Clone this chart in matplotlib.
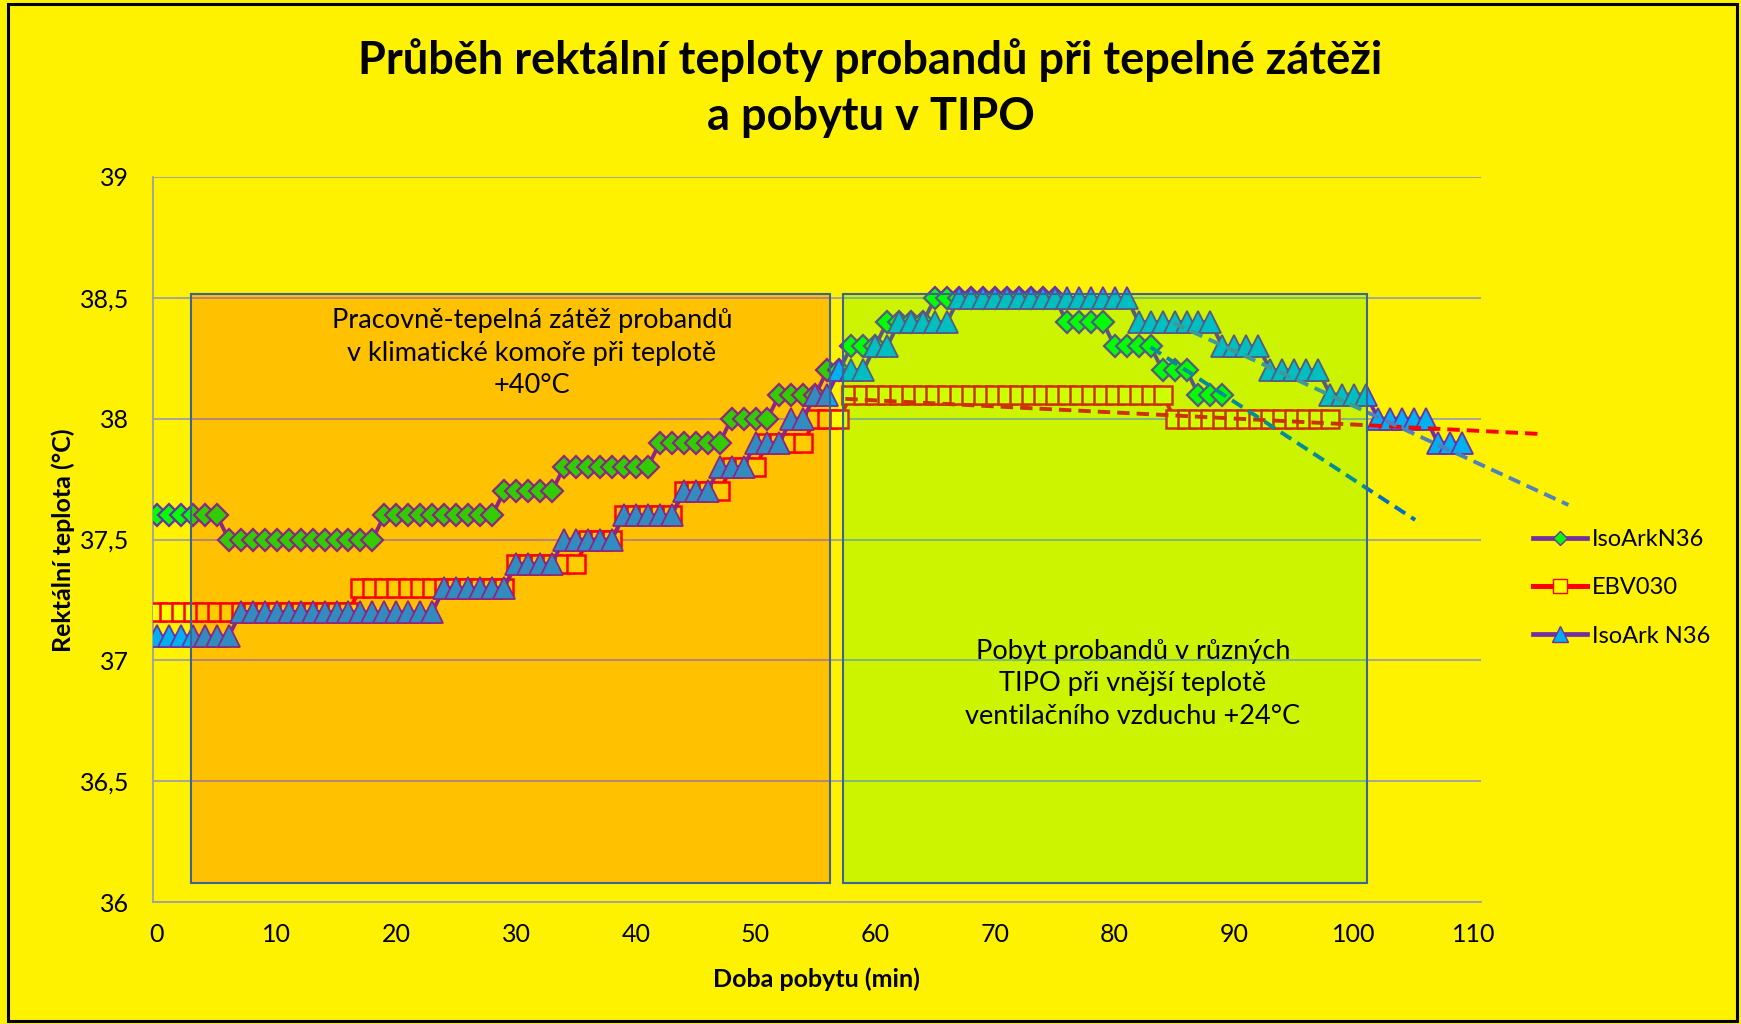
import numpy as np
import matplotlib
matplotlib.use('Agg')
import matplotlib.pyplot as plt
from matplotlib.patches import Rectangle
from matplotlib.lines import Line2D

plt.rcParams['font.family'] = ['Lato', 'DejaVu Sans']

# rectal temperature (°C), one reading per minute
iso_ark_n36_a = [
    37.6, 37.6, 37.6, 37.6, 37.6, 37.6,
    37.5, 37.5, 37.5, 37.5, 37.5, 37.5, 37.5, 37.5, 37.5, 37.5, 37.5, 37.5, 37.5,
    37.6, 37.6, 37.6, 37.6, 37.6, 37.6, 37.6, 37.6, 37.6, 37.6,
    37.7, 37.7, 37.7, 37.7, 37.7,
    37.8, 37.8, 37.8, 37.8, 37.8, 37.8, 37.8, 37.8,
    37.9, 37.9, 37.9, 37.9, 37.9, 37.9,
    38.0, 38.0, 38.0, 38.0,
    38.1, 38.1, 38.1, 38.1,
    38.2, 38.2,
    38.3, 38.3, 38.3,
    38.4, 38.4, 38.4, 38.4,
    38.5, 38.5, 38.5, 38.5, 38.5, 38.5, 38.5, 38.5, 38.5, 38.5, 38.5,
    38.4, 38.4, 38.4, 38.4,
    38.3, 38.3, 38.3, 38.3,
    38.2, 38.2, 38.2,
    38.1, 38.1, 38.1,
]
ebv030 = [
    37.2, 37.2, 37.2, 37.2, 37.2, 37.2, 37.2, 37.2, 37.2, 37.2, 37.2, 37.2, 37.2, 37.2, 37.2, 37.2, 37.2,
    37.3, 37.3, 37.3, 37.3, 37.3, 37.3, 37.3, 37.3, 37.3, 37.3, 37.3, 37.3, 37.3,
    37.4, 37.4, 37.4, 37.4, 37.4, 37.4,
    37.5, 37.5, 37.5,
    37.6, 37.6, 37.6, 37.6, 37.6,
    37.7, 37.7, 37.7, 37.7,
    37.8, 37.8, 37.8,
    37.9, 37.9, 37.9, 37.9,
    38.0, 38.0, 38.0,
    38.1, 38.1, 38.1, 38.1, 38.1, 38.1, 38.1, 38.1, 38.1, 38.1, 38.1, 38.1, 38.1, 38.1,
    38.1, 38.1, 38.1, 38.1, 38.1, 38.1, 38.1, 38.1, 38.1, 38.1, 38.1, 38.1, 38.1,
    38.0, 38.0, 38.0, 38.0, 38.0, 38.0, 38.0, 38.0, 38.0, 38.0, 38.0, 38.0, 38.0, 38.0,
]
iso_ark_n36_b = [
    37.1, 37.1, 37.1, 37.1, 37.1, 37.1, 37.1,
    37.2, 37.2, 37.2, 37.2, 37.2, 37.2, 37.2, 37.2, 37.2, 37.2, 37.2, 37.2, 37.2, 37.2, 37.2, 37.2, 37.2,
    37.3, 37.3, 37.3, 37.3, 37.3, 37.3,
    37.4, 37.4, 37.4, 37.4,
    37.5, 37.5, 37.5, 37.5, 37.5,
    37.6, 37.6, 37.6, 37.6, 37.6,
    37.7, 37.7, 37.7,
    37.8, 37.8, 37.8,
    37.9, 37.9, 37.9,
    38.0, 38.0,
    38.1, 38.1,
    38.2, 38.2, 38.2,
    38.3, 38.3,
    38.4, 38.4, 38.4, 38.4, 38.4,
    38.5, 38.5, 38.5, 38.5, 38.5, 38.5, 38.5, 38.5, 38.5, 38.5, 38.5, 38.5, 38.5, 38.5, 38.5,
    38.4, 38.4, 38.4, 38.4, 38.4, 38.4, 38.4,
    38.3, 38.3, 38.3, 38.3,
    38.2, 38.2, 38.2, 38.2, 38.2,
    38.1, 38.1, 38.1, 38.1,
    38.0, 38.0, 38.0, 38.0, 38.0,
    37.9, 37.9, 37.9,
]

# linear trends drawn in the second phase (start/end points)
trend_ebv_x = [57.5, 115.4]
trend_ebv_y = [38.082, 37.937]
trend_a_x = [83, 105.1]
trend_a_y = [38.296, 37.581]
trend_b_x = [84.9, 117.9]
trend_b_y = [38.396, 37.643]

series_labels = ['IsoArkN36', 'EBV030', 'IsoArk N36']
x_ticks = [0, 10, 20, 30, 40, 50, 60, 70, 80, 90, 100, 110]
y_ticks = [36, 36.5, 37, 37.5, 38, 38.5, 39]
y_tick_labels = ['36', '36,5', '37', '37,5', '38', '38,5', '39']

BG = '#fff200'
PURPLE = '#7030a0'

W, H = 1741, 1024
fig = plt.figure(figsize=(W / 100, H / 100), dpi=100, facecolor=BG)
ax = fig.add_axes([153 / W, 1 - 902 / H, (1481 - 153) / W, (902 - 177) / H])
ax.set_facecolor(BG)

x_a = np.arange(len(iso_ark_n36_a))
x_e = np.arange(len(ebv030))
x_b = np.arange(len(iso_ark_n36_b))

ax.plot(x_a, iso_ark_n36_a, color=PURPLE, lw=2.8, marker='D', ms=11.5,
        mfc='#00ff00', mec=PURPLE, mew=1.6, zorder=3)
ax.plot(x_e, ebv030, color='#ff0000', lw=2.8, marker='s', ms=13.3,
        mfc='#ffff00', mec='#ff0000', mew=1.8, zorder=4)
ax.plot(x_b, iso_ark_n36_b, color=PURPLE, lw=2.8, marker='^', ms=15.5,
        mfc='#00b0f0', mec=PURPLE, mew=1.3, zorder=5)

# trend lines
ax.plot(trend_ebv_x, trend_ebv_y, color='#ff0000', lw=2.8, dashes=(3.2, 1.8), zorder=6, clip_on=False)
ax.plot(trend_a_x, trend_a_y, color='#0070c0', lw=2.8, dashes=(3.2, 1.8), zorder=6, clip_on=False)
ax.plot(trend_b_x, trend_b_y, color='#4f81bd', lw=2.8, dashes=(3.2, 1.8), zorder=6, clip_on=False)

# phase boxes (semi-transparent overlays)
for x0, x1, col in [(2.84, 56.2, '#ff0000'), (57.3, 101.1, '#00ff00')]:
    ax.add_patch(Rectangle((x0, 36.08), x1 - x0, 38.515 - 36.08, facecolor=col,
                           alpha=0.2, edgecolor='none', zorder=8))
    ax.add_patch(Rectangle((x0, 36.08), x1 - x0, 38.515 - 36.08, fill=False,
                           edgecolor='#3c6496', lw=1.5, zorder=9))

fig.text(532 / W, 1 - 353 / H,
         'Pracovně-tepelná zátěž probandů\nv klimatické komoře při teplotě\n+40°C',
         ha='center', va='center', multialignment='center', fontsize=19.5,
         linespacing=1.38, zorder=10)
fig.text(1133 / W, 1 - 684 / H,
         'Pobyt probandů v různých\nTIPO při vnější teplotě\nventilačního vzduchu +24°C',
         ha='center', va='center', multialignment='center', fontsize=19.5,
         linespacing=1.38, zorder=10)

ax.set_xlim(-0.33, 110.6)
ax.set_ylim(36, 39)
ax.set_xticks(x_ticks)
ax.set_yticks(y_ticks)
ax.set_yticklabels(y_tick_labels)
ax.tick_params(axis='both', length=0, labelsize=18)
ax.tick_params(axis='y', pad=17)
ax.tick_params(axis='x', pad=15)
ax.yaxis.grid(True, color='#a0a0a0', lw=1.3)
ax.set_axisbelow(True)
for side in ['top', 'right']:
    ax.spines[side].set_visible(False)
for side in ['left', 'bottom']:
    ax.spines[side].set_color('#a0a0a0')
    ax.spines[side].set_linewidth(1.3)

fig.text(0.5, 1 - 88 / H, 'Průběh rektální teploty probandů při tepelné zátěži\na pobytu v TIPO',
         ha='center', va='center', fontsize=32.5, fontweight='bold', linespacing=1.4)
fig.text(63 / W, 1 - 540 / H, 'Rektální teplota (°C)', rotation=90, ha='center', va='center',
         fontsize=18, fontweight='bold')
fig.text(816 / W, 1 - 979 / H, 'Doba pobytu (min)', ha='center', va='center',
         fontsize=18, fontweight='bold')

handles = [
    Line2D([], [], color=PURPLE, lw=3.4, marker='D', ms=7, mfc='#00ff00', mec=PURPLE, mew=1),
    Line2D([], [], color='#ff0000', lw=3.6, marker='s', ms=10.5, mfc='#ffff00', mec='#ff0000', mew=1),
    Line2D([], [], color=PURPLE, lw=3.4, marker='^', ms=11.5, mfc='#00b0f0', mec=PURPLE, mew=1),
]
fig.legend(handles, series_labels, loc='center left', bbox_to_anchor=(1533 / W, 1 - 588 / H),
           frameon=False, fontsize=17, handlelength=2.3, handletextpad=0.2,
           labelspacing=1.15, borderpad=0, borderaxespad=0)

fig.patches.append(Rectangle((8 / W, 3 / H), (1737 - 8) / W, (1020 - 3) / H,
                             transform=fig.transFigure, fill=False, edgecolor='black', lw=2.2))

fig.savefig('out.png', dpi=100, facecolor=BG)
